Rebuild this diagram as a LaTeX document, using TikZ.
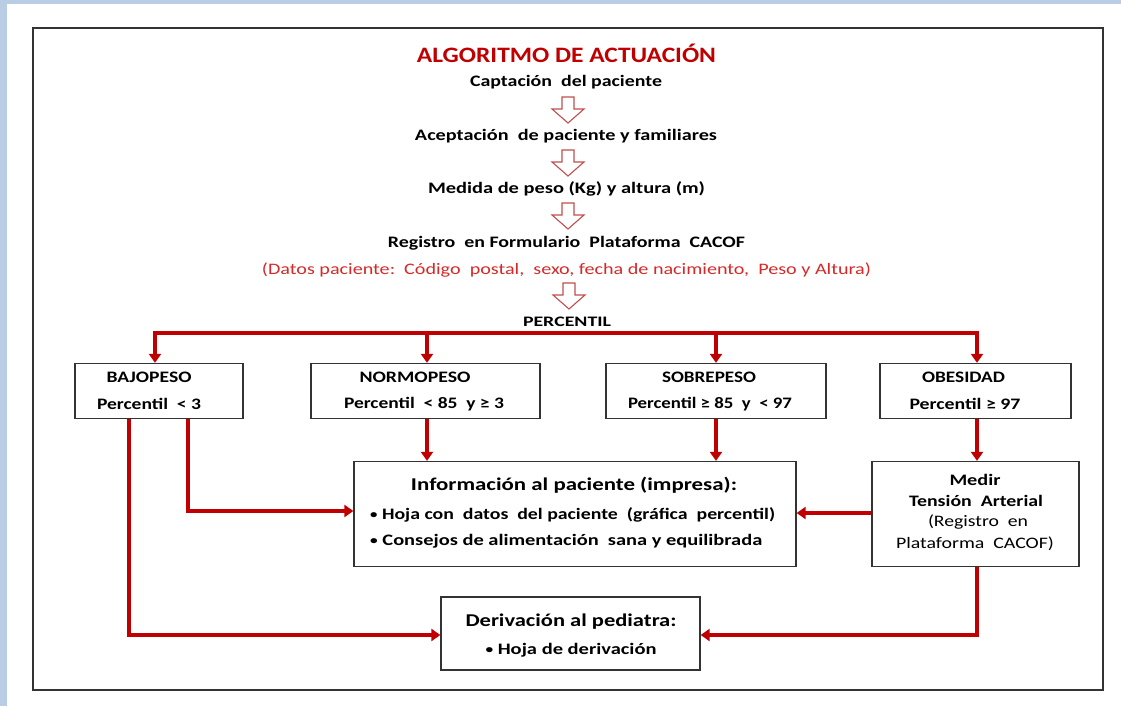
\documentclass[tikz,border=0pt]{standalone}
\usepackage{fontspec}
\usepackage{graphicx}
\setmainfont{Carlito}
\usetikzlibrary{arrows.meta}
\definecolor{bgblue}{HTML}{B9CDE5}
\definecolor{dred}{HTML}{C00000}
\definecolor{tred}{HTML}{D42A2A}
\definecolor{ared}{HTML}{C0504D}
\definecolor{frame}{HTML}{333333}
\newcommand\fw[2]{\resizebox{#1pt}{\height}{#2}}
\newcommand\bul{\raisebox{0.15ex}{\scalebox{0.75}{•}}}
\tikzset{
  x=1pt, y=-1pt,
  box/.style={draw=frame, line width=1.3pt, fill=white, inner sep=0pt},
  txt/.style={inner sep=0pt, font=\bfseries\fontsize{16}{19}\selectfont, text=black},
  conn/.style={draw=dred, line width=3.5pt, -{Triangle[length=9pt,width=12pt]}, line join=miter},
  pics/hollow/.style={code={
    \draw[ared, line width=1.1pt, fill=white] (-6,0) -- (6,0) -- (6,12) -- (16,12) -- (0,26) -- (-16,12) -- (-6,12) -- cycle;
  }}
}
\begin{document}
\begin{tikzpicture}
\useasboundingbox (0,0) rectangle (1121,706);
\fill[bgblue] (0,0) rectangle (1121,706);
\fill[white] (7,4) rectangle (1121,706);
\draw[frame, line width=1.5pt] (33,28) rectangle (1103,690);

% title and steps
\node[txt, text=dred, font=\bfseries\fontsize{22}{24}\selectfont] (title) at (566.5,53) {\fw{299}{ALGORITMO DE ACTUACIÓN}};
\node[txt] (s1) at (566,82) {\fw{192}{Captación\ \ del paciente}};
\pic at (568,97) {hollow};
\node[txt] (s2) at (566,136) {\fw{302}{Aceptación\ \ de paciente y familiares}};
\pic at (568,150) {hollow};
\node[txt] (s3) at (566.5,189) {\fw{277}{Medida de peso (Kg) y altura (m)}};
\pic at (568,203) {hollow};
\node[txt] (s4) at (566.5,243) {\fw{357}{Registro\ \ en Formulario\ \ Plataforma\ \ CACOF}};
\node[txt, font=\fontsize{16}{19}\selectfont, text=tred] (s5) at (566.5,270) {\fw{609}{(Datos paciente:\ \ Código\ \ postal,\ \ sexo, fecha de nacimiento,\ \ Peso y Altura)}};
\pic at (569,283) {hollow};
\node[txt, font=\bfseries\fontsize{14.5}{16}\selectfont] (perc) at (567,322) {\fw{88}{PERCENTIL}};

% category boxes
\node[box, minimum width=168, minimum height=55] (bajo) at (159,391) {};
\node[box, minimum width=229, minimum height=55] (normo) at (425.5,391) {};
\node[box, minimum width=220, minimum height=55] (sobre) at (716,391) {};
\node[box, minimum width=191, minimum height=55] (obes) at (975.5,391) {};
\node[txt] (bajo1) at (149,377) {\fw{85}{BAJOPESO}};
\node[txt] (bajo2) at (149,404) {\fw{104}{Percentil\ \ <\ 3}};
\node[txt] (normo1) at (415,377) {\fw{111}{NORMOPESO}};
\node[txt] (normo2) at (424,404) {\fw{160}{Percentil\ \ <\ 85\ \ y\ ≥\ 3}};
\node[txt] (sobre1) at (709,377) {\fw{94}{SOBREPESO}};
\node[txt] (sobre2) at (710,404) {\fw{164}{Percentil\ ≥\ 85\ \ y\ \ <\ 97}};
\node[txt] (obes1) at (963.5,377) {\fw{83}{OBESIDAD}};
\node[txt] (obes2) at (965,404) {\fw{111}{Percentil\ ≥\ 97}};

% info box
\node[box, minimum width=442, minimum height=105] (info) at (575,514) {};
\node[txt, font=\bfseries\fontsize{18}{20}\selectfont] (infot) at (574,485) {\fw{326}{Información al paciente (impresa):}};
\node[txt, anchor=west] (infob1) at (370,515) {\fw{405}{\bul\ Hoja\ con\ \ datos\ \ del paciente\ \ (gráfica\ \ percentil)}};
\node[txt, anchor=west] (infob2) at (370,541) {\fw{392}{\bul\ Consejos\ de\ alimentación\ \ sana\ y\ equilibrada}};

% medir box
\node[box, minimum width=207, minimum height=105] (medir) at (975.5,514) {};
\node[txt] (m1) at (975,480) {\fw{51}{Medir}};
\node[txt] (m2) at (976,501) {\fw{134}{Tensión\ \ Arterial}};
\node[txt, font=\fontsize{16}{19}\selectfont] (m3) at (978,522.5) {\fw{100}{(Registro\ \ en}};
\node[txt, font=\fontsize{16}{19}\selectfont] (m4) at (975,544) {\fw{158}{Plataforma\ \ CACOF)}};

% derivacion box
\node[box, minimum width=259, minimum height=73] (deriv) at (570.5,633.5) {};
\node[txt, font=\bfseries\fontsize{18}{20}\selectfont] (dt) at (571,622) {\fw{211}{Derivación al pediatra:}};
\node[txt] (db) at (571,650) {\fw{171}{\bul\ Hoja de derivación}};

% percentil distribution
\coordinate (hl) at (155,333);
\coordinate (hr) at (977,333);
\draw[dred, line width=3.5pt, line cap=rect] (hl) -- (hr);
\draw[conn] (hl) -- (bajo.north -| hl);
\draw[conn] (427,333) -- (normo.north -| 427,0);
\draw[conn] (716,333) -- (sobre.north -| 716,0);
\draw[conn] (hr) -- (obes.north -| hr);

% downstream connectors
\draw[conn] (normo.south -| 427,0) -- (info.north -| 427,0);
\draw[conn] (sobre.south -| 716,0) -- (info.north -| 716,0);
\draw[conn] (obes.south -| 977,0) -- (medir.north -| 977,0);
\draw[conn] (bajo.south -| 188,0) |- (info.west |- 0,511);
\draw[conn] (bajo.south -| 129,0) |- (deriv.west |- 0,635);
\draw[conn] (medir.west |- 0,513) -- (info.east |- 0,513);
\draw[conn] (medir.south -| 977,0) |- (deriv.east |- 0,635);
\end{tikzpicture}
\end{document}
